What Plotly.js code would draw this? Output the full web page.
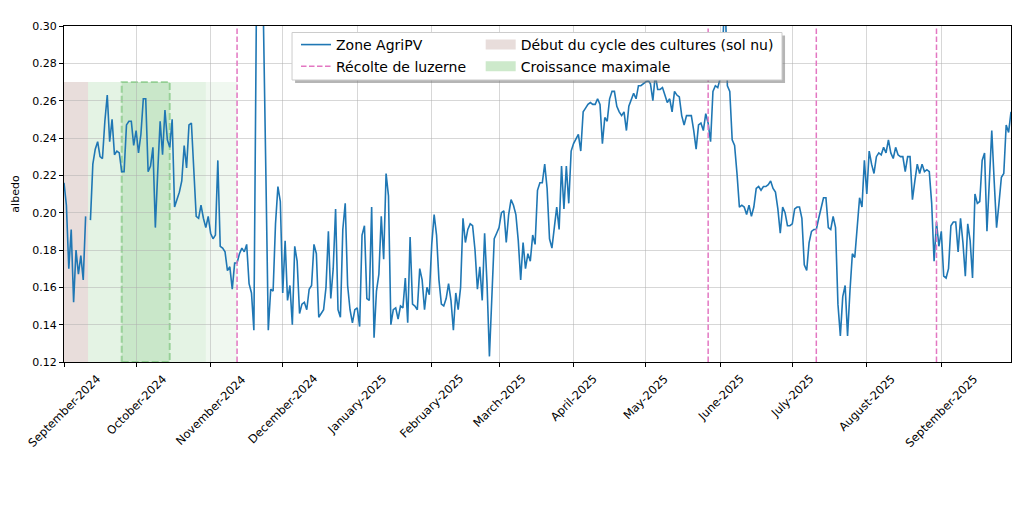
<!DOCTYPE html>
<html>
<head>
<meta charset="utf-8">
<script src="https://cdn.plot.ly/plotly-3.0.1.min.js"></script>
<style>
  html, body { margin: 0; padding: 0; background: #fff; }
  #albedo-chart { width: 1024px; height: 512px; }
</style>
</head>
<body>
<div id="albedo-chart"></div>
<script>
// daily albedo, one array per month (null = no data)
const sep2024 = [0.216, 0.204, 0.170, 0.191, 0.152, 0.180, 0.167, 0.177, 0.164, 0.198, null, 0.196, 0.226, 0.234, 0.238, 0.230, 0.229, 0.249, 0.263, 0.238, 0.250, 0.231, 0.233, 0.232, 0.222, 0.222, 0.247, 0.249, 0.249, 0.236];
const oct2024 = [0.244, 0.232, 0.242, 0.261, 0.261, 0.222, 0.225, 0.235, 0.192, 0.222, 0.249, 0.231, 0.255, 0.239, 0.235, 0.250, 0.203, 0.207, 0.211, 0.217, 0.236, 0.224, 0.247, 0.248, 0.226, 0.198, 0.197, 0.204, 0.197, 0.192, 0.198];
const nov2024 = [0.189, 0.186, 0.188, 0.228, 0.182, 0.181, 0.179, 0.169, 0.171, 0.159, 0.173, 0.173, 0.178, 0.181, 0.179, 0.183, 0.162, 0.157, 0.137, 0.301, 0.301, 0.301, 0.301, 0.220, 0.137, 0.159, 0.158, 0.194, 0.214, 0.206];
const dec2024 = [0.157, 0.185, 0.153, 0.161, 0.140, 0.182, 0.174, 0.146, 0.151, 0.152, 0.148, 0.159, 0.161, 0.183, 0.178, 0.144, 0.146, 0.148, 0.160, 0.190, 0.154, 0.170, 0.202, 0.148, 0.144, 0.191, 0.205, 0.161, 0.148, 0.141, 0.148];
const jan2025 = [0.149, 0.139, 0.188, 0.193, 0.154, 0.153, 0.203, 0.133, 0.158, 0.167, 0.198, 0.175, 0.221, 0.209, 0.140, 0.148, 0.149, 0.143, 0.150, 0.149, 0.165, 0.141, 0.187, 0.151, 0.150, 0.148, 0.170, 0.164, 0.148, 0.160, 0.156];
const feb2025 = [0.183, 0.199, 0.188, 0.164, 0.151, 0.150, 0.154, 0.162, 0.153, 0.137, 0.157, 0.148, 0.160, 0.197, 0.184, 0.191, 0.194, 0.193, 0.180, 0.159, 0.171, 0.153, 0.189, 0.162, 0.123, 0.160, 0.186, 0.189];
const mar2025 = [0.192, 0.200, 0.201, 0.184, 0.199, 0.207, 0.204, 0.199, 0.185, 0.164, 0.184, 0.170, 0.178, 0.174, 0.188, 0.183, 0.212, 0.216, 0.216, 0.226, 0.213, 0.186, 0.181, 0.192, 0.203, 0.191, 0.225, 0.202, 0.225, 0.205, 0.233];
const apr2025 = [0.237, 0.240, 0.242, 0.233, 0.254, 0.256, 0.258, 0.259, 0.258, 0.258, 0.261, 0.258, 0.237, 0.251, 0.249, 0.261, 0.265, 0.265, 0.257, 0.254, 0.252, 0.254, 0.244, 0.257, 0.260, 0.264, 0.261, 0.268, 0.268, 0.269];
const may2025 = [0.270, 0.271, 0.269, 0.260, 0.274, 0.266, 0.266, 0.267, 0.263, 0.259, 0.261, 0.254, 0.265, 0.263, 0.262, 0.252, 0.247, 0.252, 0.252, 0.252, 0.244, 0.234, 0.247, 0.248, 0.244, 0.253, 0.248, 0.238, 0.265, 0.268, 0.267];
const jun2025 = [0.272, 0.287, 0.320, 0.268, 0.265, 0.239, 0.236, 0.221, 0.203, 0.204, 0.203, 0.199, 0.204, 0.198, 0.203, 0.213, 0.214, 0.212, 0.214, 0.214, 0.215, 0.217, 0.213, 0.211, 0.202, 0.189, 0.203, 0.200, 0.193, 0.193];
const jul2025 = [0.194, 0.202, 0.203, 0.203, 0.197, 0.172, 0.169, 0.184, 0.190, 0.191, 0.191, 0.197, 0.203, 0.208, 0.208, 0.192, 0.191, 0.198, 0.192, 0.151, 0.134, 0.155, 0.161, 0.134, 0.158, 0.178, 0.176, 0.192, 0.208, 0.203, 0.228];
const aug2025 = [0.210, 0.233, 0.226, 0.221, 0.230, 0.232, 0.231, 0.235, 0.232, 0.239, 0.232, 0.229, 0.235, 0.231, 0.230, 0.230, 0.222, 0.230, 0.230, 0.207, 0.217, 0.226, 0.221, 0.226, 0.222, 0.223, 0.222, 0.205, 0.174, 0.195, 0.182];
const sep2025 = [0.190, 0.166, 0.165, 0.170, 0.193, 0.195, 0.195, 0.179, 0.197, 0.184, 0.166, 0.194, 0.185, 0.165, 0.210, 0.205, 0.206, 0.228, 0.232, 0.190, 0.217, 0.244, 0.217, 0.192, 0.205, 0.219, 0.221, 0.247, 0.243, 0.254];

const months = ['2024-09', '2024-10', '2024-11', '2024-12', '2025-01', '2025-02', '2025-03', '2025-04', '2025-05', '2025-06', '2025-07', '2025-08', '2025-09'];
const monthValues = [sep2024, oct2024, nov2024, dec2024, jan2025, feb2025, mar2025, apr2025, may2025, jun2025, jul2025, aug2025, sep2025];

// alfalfa harvests
const harvestDates = ['2024-11-12', '2025-05-27', '2025-07-11', '2025-08-30'];

// crop periods
const bareSoil = ['2024-09-01', '2024-09-11'];
const growth = ['2024-09-11', '2024-10-30'];
const growthLate = ['2024-10-30', '2024-11-12'];
const growthPeak = ['2024-09-25', '2024-10-15'];
const spanTop = 0.27;

const tickDates = ['2024-09-01', '2024-10-01', '2024-11-01', '2024-12-01', '2025-01-01', '2025-02-01', '2025-03-01', '2025-04-01', '2025-05-01', '2025-06-01', '2025-07-01', '2025-08-01', '2025-09-01'];
const tickLabels = ['September-2024', 'October-2024', 'November-2024', 'December-2024', 'January-2025', 'February-2025', 'March-2025', 'April-2025', 'May-2025', 'June-2025', 'July-2025', 'August-2025', 'September-2025'];

const yRange = [0.12, 0.30];
const xRange = ['2024-09-01', '2025-09-30'];

const start = () => {
    const dates = [];
    const albedo = [];
    months.forEach((m, k) => {
        monthValues[k].forEach((v, i) => {
            dates.push(m + '-' + String(i + 1).padStart(2, '0'));
            albedo.push(v);
        });
    });
    drawChart(dates, albedo);
}

const spanShape = (span, fill, extra) => {
    return Object.assign({
        type: 'rect', xref: 'x', yref: 'y', layer: 'below',
        x0: span[0], x1: span[1], y0: yRange[0], y1: spanTop,
        fillcolor: fill,
        line: { width: 0 },
    }, extra);
}

// legend-only entry that looks like a filled patch
const patchEntry = (name, color, legendId) => ({
    x: [null], y: [null],
    type: 'scatter', mode: 'lines',
    name: name,
    line: { color: color, width: 11 },
    legend: legendId,
    hoverinfo: 'skip',
});

const drawChart = (dates, albedo) => {
    const harvestX = [];
    const harvestY = [];
    for (let d of harvestDates) {
        harvestX.push(d, d, null);
        harvestY.push(yRange[0], yRange[1], null);
    }

    let data = [
        {
            x: dates,
            y: albedo,
            type: 'scatter',
            mode: 'lines',
            name: 'Zone AgriPV',
            line: { color: '#1f77b4', width: 1.6 },
            connectgaps: false,
            legend: 'legend',
        },
        {
            x: harvestX,
            y: harvestY,
            type: 'scatter',
            mode: 'lines',
            name: 'Récolte de luzerne',
            line: { color: '#e377c2', width: 1.5, dash: '5.5px,2.5px' },
            legend: 'legend2',
        },
        patchEntry('Début du cycle des cultures (sol nu)', 'rgb(232,221,219)', 'legend3'),
        patchEntry('Croissance maximale', 'rgb(205,233,203)', 'legend4'),
    ];

    const monthAnnotations = tickDates.map((d, i) => ({
        x: d, xref: 'x',
        y: 0, yref: 'paper',
        yshift: -7,
        text: tickLabels[i],
        textangle: -45,
        xanchor: 'center',
        yanchor: 'top',
        showarrow: false,
        font: { size: 11.5, color: '#000' },
    }));

    const legendBox = (x, y) => ({
        x: x, y: y, xanchor: 'left', yanchor: 'middle',
        bgcolor: 'rgba(0,0,0,0)', borderwidth: 0,
        font: { size: 14 },
    });

    // legend frame + shadow (paper coords of the plot area)
    const frame = { x0: 0.2408, x1: 0.7582, y0: 0.8393, y1: 0.9807 };
    let layout = {
        width: 1024,
        height: 512,
        margin: { l: 64, r: 13, t: 26, b: 150 },
        paper_bgcolor: '#fff',
        plot_bgcolor: '#fff',
        font: { family: 'DejaVu Sans, sans-serif', size: 11, color: '#000' },
        showlegend: true,
        xaxis: {
            type: 'date',
            range: xRange,
            tickvals: tickDates,
            showticklabels: false,
            ticks: 'outside', ticklen: 4, tickcolor: '#000',
            showgrid: true, gridcolor: 'rgba(176,176,176,0.5)', gridwidth: 1,
            showline: true, linecolor: '#000', linewidth: 1, mirror: true,
            zeroline: false,
        },
        yaxis: {
            range: yRange,
            dtick: 0.02,
            tick0: 0.12,
            tickformat: '.2f',
            ticks: 'outside', ticklen: 4, tickcolor: '#000',
            showgrid: true, gridcolor: 'rgba(176,176,176,0.5)', gridwidth: 1,
            showline: true, linecolor: '#000', linewidth: 1, mirror: true,
            zeroline: false,
            title: { text: 'albedo', font: { size: 11 }, standoff: 10 },
        },
        legend: legendBox(0.2450, 0.9435),
        legend2: legendBox(0.2450, 0.8789),
        legend3: legendBox(0.4400, 0.9435),
        legend4: legendBox(0.4400, 0.8789),
        shapes: [
            spanShape(bareSoil, 'rgba(140,86,75,0.2)', {}),
            spanShape(growth, 'rgba(44,160,44,0.13)', {}),
            spanShape(growthLate, 'rgba(44,160,44,0.07)', {}),
            spanShape(growthPeak, 'rgba(44,160,44,0.14)', {
                line: { width: 2, color: 'rgba(44,160,44,0.35)', dash: '7px,3px' },
            }),
            {
                type: 'rect', xref: 'paper', yref: 'paper',
                x0: frame.x0 + 0.0032, x1: frame.x1 + 0.0032,
                y0: frame.y0 - 0.009, y1: frame.y1 - 0.009,
                fillcolor: 'rgba(120,120,120,0.55)', line: { width: 0 },
            },
            {
                type: 'rect', xref: 'paper', yref: 'paper',
                x0: frame.x0, x1: frame.x1, y0: frame.y0, y1: frame.y1,
                fillcolor: '#fff', line: { color: '#cccccc', width: 1 },
            },
        ],
        annotations: monthAnnotations,
    };
    Plotly.newPlot('albedo-chart', data, layout, { staticPlot: true });
}

start();
</script>
</body>
</html>
